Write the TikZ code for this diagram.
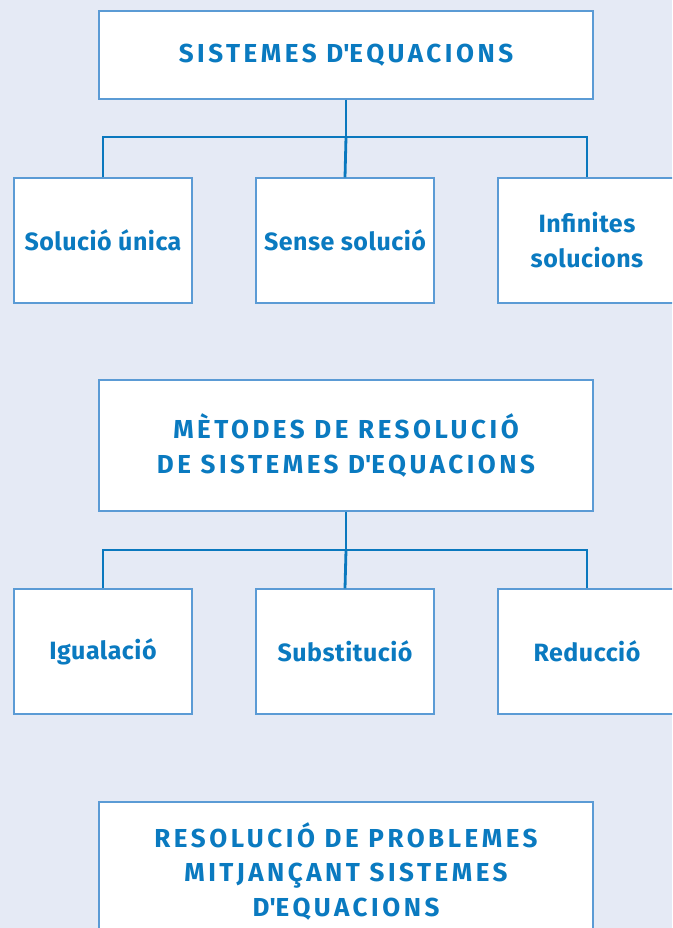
\documentclass[tikz,border=0pt]{standalone}
\usepackage{fontspec}
\setmainfont{Fira Sans}[LetterSpace=2]
\newfontfamily\capsfont{Fira Sans}[LetterSpace=13.5]
\definecolor{bgc}{HTML}{E5EAF5}
\definecolor{edgec}{HTML}{5B9BD5}
\definecolor{linec}{HTML}{0A78BE}
\definecolor{textc}{HTML}{0A7AC0}
\newcommand{\apos}{\textquotesingle}
\tikzset{
  box/.style={draw=edgec, line width=1.3pt, fill=white, rectangle, inner sep=0pt,
    align=center, text=textc},
  head/.style={box, minimum width=494pt, font=\capsfont\bfseries\fontsize{26}{34.5}\selectfont},
  leaf/.style={box, minimum width=178pt, minimum height=125pt, font=\bfseries\fontsize{25}{35}\selectfont},
  conn/.style={draw=linec, line width=2.8pt}
}
\begin{document}
\begin{tikzpicture}[x=1pt,y=-1pt]
\useasboundingbox (0,0) rectangle (672,928);
\fill[bgc] (0,0) rectangle (672,928);
\clip (0,0) rectangle (672,928);
% group 1
\node[head, minimum height=88pt] (t1) at (346,55) {SISTEMES D\apos EQUACIONS};
\node[leaf] (a1) at (103,240.5) {Solució única};
\node[leaf] (b1) at (345,240.5) {Sense solució};
\node[leaf] (c1) at (587,240.5) {Infinites\\solucions};
\coordinate (j1) at (346,137);
\draw[conn] (t1.south) -- (j1);
\draw[conn] (a1.north) |- (j1) -| (c1.north);
\draw[conn] (j1) -- (b1.north);
% group 2
\node[head, minimum height=131pt] (t2) at (346,445.5) {MÈTODES DE RESOLUCIÓ\\DE SISTEMES D\apos EQUACIONS};
\node[leaf] (a2) at (103,651.5) {Igualació};
\node[leaf] (b2) at (345,651.5) {Substitució};
\node[leaf] (c2) at (587,651.5) {Reducció};
\coordinate (j2) at (346,550);
\draw[conn] (t2.south) -- (j2);
\draw[conn] (a2.north) |- (j2) -| (c2.north);
\draw[conn] (j2) -- (b2.north);
% group 3
\node[head, minimum height=138pt] (t3) at (346,871) {RESOLUCIÓ DE PROBLEMES\\MITJANÇANT SISTEMES\\D\apos EQUACIONS};
\end{tikzpicture}
\end{document}
